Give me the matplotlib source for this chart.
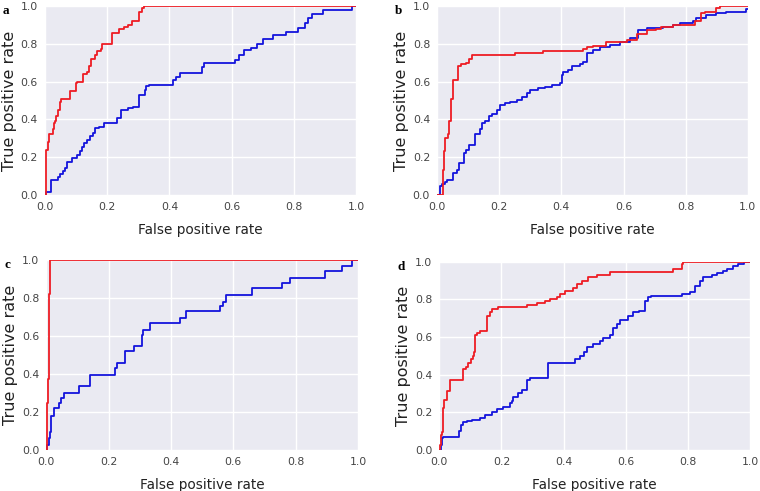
import matplotlib.pyplot as plt

# panel a
a_red_fpr = [0, 0.003, 0.005, 0.011, 0.014, 0.025, 0.029, 0.032, 0.037, 0.043, 0.048, 0.053, 0.082, 0.099, 0.104, 0.121, 0.134, 0.142, 0.147, 0.160, 0.168, 0.179, 0.185, 0.214, 0.239, 0.253, 0.267, 0.281, 0.303, 0.313, 0.318, 1.0]
a_red_tpr = [0, 0.20, 0.24, 0.28, 0.32, 0.35, 0.38, 0.39, 0.42, 0.45, 0.49, 0.51, 0.55, 0.59, 0.60, 0.64, 0.65, 0.68, 0.72, 0.74, 0.76, 0.77, 0.80, 0.855, 0.88, 0.89, 0.90, 0.92, 0.97, 0.99, 1.0, 1.0]
a_blue_fpr = [0, 0.005, 0.021, 0.043, 0.048, 0.057, 0.064, 0.070, 0.086, 0.104, 0.112, 0.118, 0.125, 0.136, 0.144, 0.153, 0.160, 0.174, 0.189, 0.232, 0.246, 0.267, 0.283, 0.303, 0.321, 0.326, 0.335, 0.412, 0.422, 0.433, 0.503, 0.510, 0.610, 0.624, 0.639, 0.663, 0.681, 0.701, 0.733, 0.773, 0.811, 0.834, 0.845, 0.856, 0.893, 0.987, 1.0]
a_blue_tpr = [0, 0.018, 0.079, 0.097, 0.11, 0.125, 0.14, 0.176, 0.194, 0.21, 0.23, 0.256, 0.273, 0.29, 0.31, 0.326, 0.353, 0.36, 0.38, 0.406, 0.45, 0.46, 0.467, 0.53, 0.556, 0.577, 0.582, 0.608, 0.623, 0.644, 0.679, 0.697, 0.714, 0.741, 0.767, 0.776, 0.80, 0.824, 0.847, 0.864, 0.882, 0.908, 0.935, 0.958, 0.979, 1.0, 1.0]

# panel b
b_red_fpr = [0, 0.016, 0.018, 0.021, 0.027, 0.035, 0.040, 0.045, 0.051, 0.066, 0.077, 0.094, 0.102, 0.112, 0.251, 0.342, 0.471, 0.481, 0.503, 0.545, 0.610, 0.642, 0.674, 0.706, 0.722, 0.759, 0.829, 0.850, 0.861, 0.898, 0.909, 1.0]
b_red_tpr = [0, 0.0, 0.13, 0.23, 0.30, 0.32, 0.39, 0.51, 0.61, 0.68, 0.69, 0.70, 0.72, 0.74, 0.75, 0.76, 0.77, 0.78, 0.79, 0.81, 0.82, 0.85, 0.87, 0.88, 0.89, 0.90, 0.92, 0.96, 0.97, 0.99, 1.0, 1.0]
b_blue_fpr = [0, 0.011, 0.016, 0.027, 0.032, 0.053, 0.064, 0.070, 0.086, 0.094, 0.102, 0.123, 0.139, 0.144, 0.155, 0.166, 0.176, 0.193, 0.203, 0.219, 0.235, 0.257, 0.273, 0.289, 0.299, 0.326, 0.348, 0.369, 0.396, 0.401, 0.406, 0.422, 0.433, 0.460, 0.471, 0.481, 0.503, 0.524, 0.556, 0.588, 0.620, 0.647, 0.674, 0.727, 0.759, 0.781, 0.824, 0.834, 0.866, 0.898, 0.930, 0.995, 1.0]
b_blue_tpr = [0, 0.045, 0.06, 0.07, 0.08, 0.115, 0.13, 0.17, 0.22, 0.24, 0.265, 0.32, 0.35, 0.38, 0.39, 0.42, 0.43, 0.45, 0.476, 0.485, 0.494, 0.50, 0.52, 0.54, 0.556, 0.564, 0.573, 0.582, 0.59, 0.635, 0.652, 0.66, 0.68, 0.69, 0.705, 0.75, 0.767, 0.785, 0.794, 0.81, 0.83, 0.873, 0.882, 0.89, 0.90, 0.908, 0.92, 0.935, 0.952, 0.96, 0.97, 0.984, 0.984]

# panel c
c_red_fpr = [0, 0.002, 0.005, 0.007, 0.011, 0.013, 1.0]
c_red_tpr = [0, 0.245, 0.37, 0.82, 0.85, 1.0, 1.0]
c_blue_fpr = [0, 0.002, 0.007, 0.013, 0.015, 0.024, 0.040, 0.047, 0.058, 0.104, 0.139, 0.221, 0.227, 0.253, 0.280, 0.307, 0.310, 0.334, 0.428, 0.449, 0.558, 0.567, 0.578, 0.660, 0.756, 0.783, 0.895, 0.948, 0.980, 1.0]
c_blue_tpr = [0, 0.026, 0.06, 0.096, 0.18, 0.22, 0.245, 0.27, 0.30, 0.333, 0.395, 0.43, 0.456, 0.518, 0.544, 0.605, 0.63, 0.667, 0.693, 0.728, 0.754, 0.78, 0.816, 0.851, 0.877, 0.904, 0.939, 0.965, 1.0, 1.0]

# panel d
d_red_fpr = [0, 0.002, 0.005, 0.0075, 0.011, 0.013, 0.016, 0.024, 0.036, 0.075, 0.086, 0.093, 0.101, 0.107, 0.113, 0.115, 0.120, 0.131, 0.152, 0.155, 0.163, 0.168, 0.190, 0.281, 0.313, 0.340, 0.356, 0.378, 0.388, 0.405, 0.431, 0.442, 0.458, 0.480, 0.506, 0.549, 0.753, 0.780, 0.785, 1.0]
d_red_tpr = [0, 0.027, 0.08, 0.097, 0.124, 0.22, 0.265, 0.31, 0.37, 0.43, 0.44, 0.46, 0.48, 0.50, 0.52, 0.61, 0.62, 0.63, 0.69, 0.71, 0.73, 0.75, 0.76, 0.77, 0.78, 0.79, 0.80, 0.81, 0.83, 0.845, 0.86, 0.88, 0.90, 0.92, 0.93, 0.945, 0.96, 0.99, 1.0, 1.0]
d_blue_fpr = [0, 0.005, 0.0075, 0.013, 0.064, 0.069, 0.077, 0.088, 0.104, 0.131, 0.147, 0.168, 0.185, 0.204, 0.227, 0.233, 0.238, 0.254, 0.265, 0.281, 0.292, 0.351, 0.437, 0.453, 0.464, 0.474, 0.496, 0.517, 0.528, 0.549, 0.558, 0.571, 0.582, 0.608, 0.624, 0.641, 0.662, 0.673, 0.680, 0.780, 0.807, 0.823, 0.839, 0.850, 0.877, 0.893, 0.914, 0.925, 0.946, 0.962, 0.979, 1.0]
d_blue_tpr = [0, 0.027, 0.06, 0.07, 0.10, 0.13, 0.145, 0.155, 0.16, 0.17, 0.185, 0.20, 0.215, 0.23, 0.25, 0.26, 0.28, 0.30, 0.32, 0.37, 0.38, 0.46, 0.48, 0.50, 0.52, 0.545, 0.56, 0.58, 0.595, 0.61, 0.65, 0.67, 0.69, 0.71, 0.73, 0.74, 0.79, 0.81, 0.82, 0.83, 0.84, 0.87, 0.90, 0.92, 0.93, 0.94, 0.95, 0.96, 0.975, 0.99, 1.0, 1.0]

panels = [
    ('a', [0.059, 0.603, 0.410, 0.385], a_red_fpr, a_red_tpr, a_blue_fpr, a_blue_tpr),
    ('b', [0.575, 0.603, 0.409, 0.385], b_red_fpr, b_red_tpr, b_blue_fpr, b_blue_tpr),
    ('c', [0.061, 0.084, 0.410, 0.387], c_red_fpr, c_red_tpr, c_blue_fpr, c_blue_tpr),
    ('d', [0.578, 0.084, 0.409, 0.383], d_red_fpr, d_red_tpr, d_blue_fpr, d_blue_tpr),
]

fig = plt.figure(figsize=(7.6, 4.91), dpi=100)
for letter, rect, rf, rt, bf, bt in panels:
    ax = fig.add_axes(rect)
    ax.set_facecolor('#EAEAF2')
    for s in ax.spines.values():
        s.set_visible(False)
    ax.grid(True, color='white', linewidth=1.0)
    ax.set_axisbelow(True)
    ax.plot(bf, bt, color='#1414DC', linewidth=1.3, drawstyle='steps-post')
    ax.plot(rf, rt, color='#EE1C24', linewidth=1.3, drawstyle='steps-post')
    ax.set_xlim(0, 1)
    ax.set_ylim(0, 1)
    ax.set_xticks([0, 0.2, 0.4, 0.6, 0.8, 1.0])
    ax.set_yticks([0, 0.2, 0.4, 0.6, 0.8, 1.0])
    ax.tick_params(length=0, labelsize=7.8, colors='#444444', pad=5)
    ax.set_xlabel('False positive rate', fontsize=9.8, color='#222222', labelpad=8)
    ax.set_ylabel('True positive rate', fontsize=11.5, color='#222222', va='center')
    ax.yaxis.set_label_coords(-0.115, 0.5)
    ax.text(-0.135, 1.005, letter, transform=ax.transAxes, fontsize=9.5, fontweight='bold',
            family='Liberation Serif', va='top', ha='left')

plt.savefig('out.png', dpi=100)
